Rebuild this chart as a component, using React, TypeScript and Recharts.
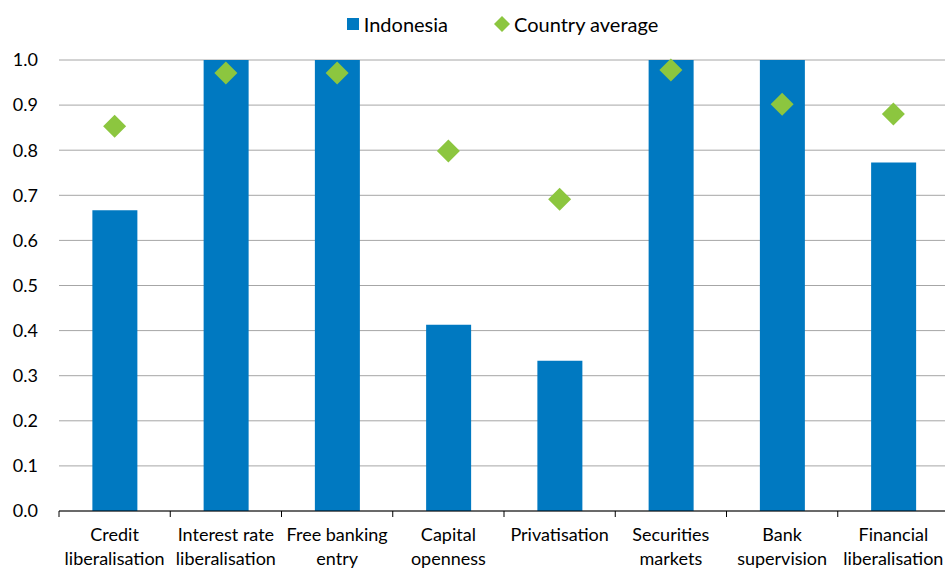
import React from 'react'
import { ComposedChart, Bar, Line, XAxis, YAxis, CartesianGrid } from 'recharts'

const categories = [
  'Credit\nliberalisation',
  'Interest rate\nliberalisation',
  'Free banking\nentry',
  'Capital\nopenness',
  'Privatisation',
  'Securities\nmarkets',
  'Bank\nsupervision',
  'Financial\nliberalisation',
]
const indonesia = [0.667, 1.0, 1.0, 0.413, 0.333, 1.0, 1.0, 0.773]
const countryAverage = [0.853, 0.971, 0.971, 0.798, 0.691, 0.978, 0.902, 0.88]
const yTicks = [0, 0.1, 0.2, 0.3, 0.4, 0.5, 0.6, 0.7, 0.8, 0.9, 1.0]

const BLUE = '#0079C1'
const GREEN = '#8CC63F'
const FONT = 'Lato, "Liberation Sans", sans-serif'

const W = 960
const H = 570
const Y_AXIS_W = 59
const RIGHT = 11
const BAND = (W - Y_AXIS_W - RIGHT) / categories.length

const data = categories.map((name, i) => ({
  name,
  indonesia: indonesia[i],
  avg: countryAverage[i],
}))

function CategoryTick(props: any) {
  const { x, y, payload, index } = props
  const lines = String(payload.value).split('\n')
  const half = BAND / 2
  return (
    <g>
      <line x1={x - half} x2={x - half} y1={y} y2={y + 6} stroke="#000" strokeWidth={1} />
      {index === categories.length - 1 && (
        <line x1={x + half} x2={x + half} y1={y} y2={y + 6} stroke="#000" strokeWidth={1} />
      )}
      <text textAnchor="middle" fontSize={18} fontFamily={FONT} fill="#000">
        {lines.map((l, i) => (
          <tspan key={i} x={x} y={y + 30 + i * 24}>
            {l}
          </tspan>
        ))}
      </text>
    </g>
  )
}

function Diamond(props: any) {
  const { cx, cy } = props
  if (cx == null || cy == null) return null
  const r = 11.5
  return (
    <polygon
      points={`${cx},${cy - r} ${cx + r},${cy} ${cx},${cy + r} ${cx - r},${cy}`}
      fill={GREEN}
    />
  )
}

function LegendBox() {
  return (
    <div
      style={{
        position: 'absolute',
        top: 12,
        left: 0,
        width: 945,
        display: 'flex',
        justifyContent: 'center',
        alignItems: 'center',
        fontFamily: FONT,
        fontSize: 20,
        color: '#000',
        paddingLeft: 60,
        boxSizing: 'border-box',
      }}
    >
      <span style={{ width: 12, height: 12, background: BLUE, display: 'inline-block', marginRight: 5 }} />
      <span>Indonesia</span>
      <svg width={16} height={16} style={{ marginLeft: 46, marginRight: 4 }}>
        <polygon points="8,0 16,8 8,16 0,8" fill={GREEN} />
      </svg>
      <span>Country average</span>
    </div>
  )
}

export default function App() {
  return (
    <div style={{ position: 'fixed', top: 0, left: 0, width: 945, height: 570, overflow: 'hidden', background: '#fff' }}>
      <ComposedChart
        width={W}
        height={H}
        data={data}
        margin={{ top: 60, right: RIGHT, left: 0, bottom: 0 }}
        barCategoryGap="30%"
      >
        <CartesianGrid vertical={false} stroke="#A6A6A6" strokeWidth={1} />
        <XAxis
          dataKey="name"
          height={59}
          tickSize={0}
          tickMargin={0}
          interval={0}
          axisLine={{ stroke: '#000', strokeWidth: 1 }}
          tick={<CategoryTick />}
        />
        <YAxis
          width={Y_AXIS_W}
          domain={[0, 1]}
          ticks={yTicks}
          axisLine={false}
          tickLine={false}
          tickSize={6}
          tickMargin={15}
          tickFormatter={(v: number) => v.toFixed(1)}
          tick={{ fontSize: 18, fontFamily: FONT, fill: '#000' }}
        />
        <Bar dataKey="indonesia" fill={BLUE} isAnimationActive={false} />
        <Line
          dataKey="avg"
          stroke="none"
          dot={<Diamond />}
          activeDot={false}
          isAnimationActive={false}
        />
      </ComposedChart>
      <LegendBox />
    </div>
  )
}
